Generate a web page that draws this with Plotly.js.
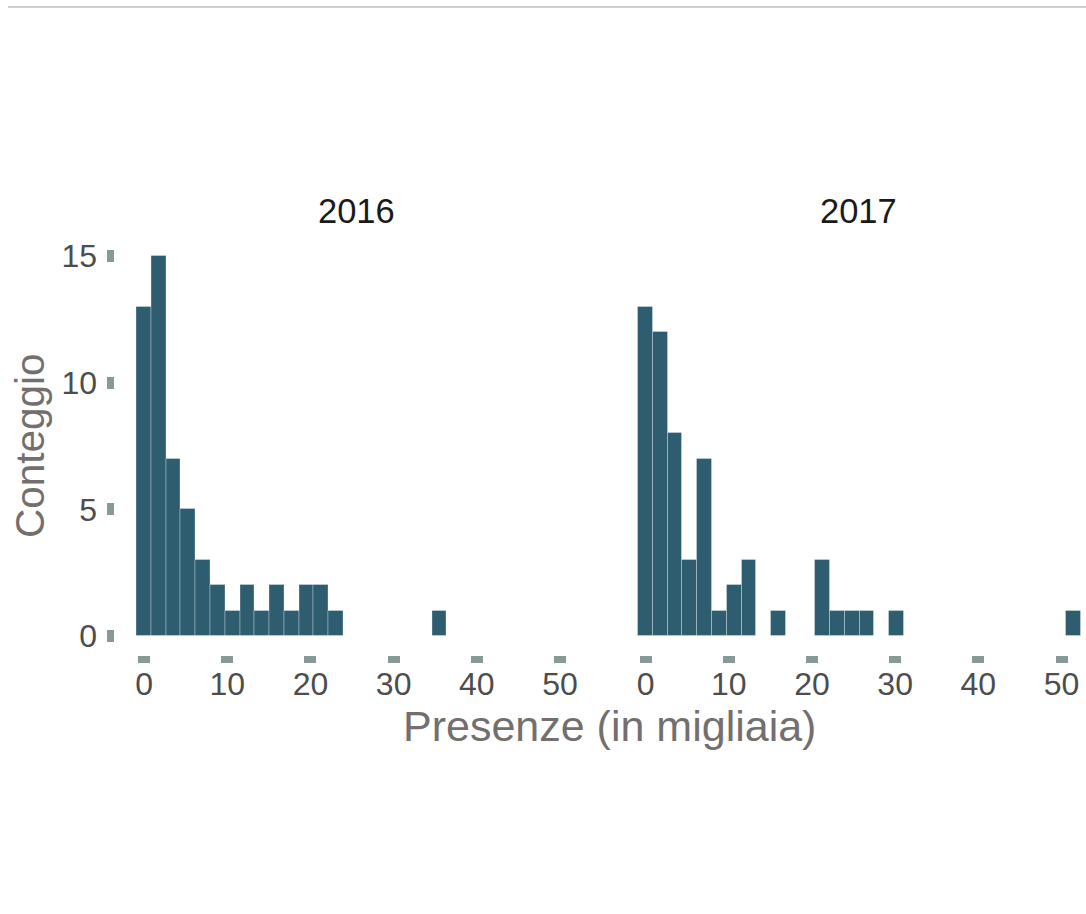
<!DOCTYPE html>
<html>
<head>
<meta charset="utf-8">
<script src="https://cdn.plot.ly/plotly-3.0.1.min.js"></script>
<style>
  html, body { margin: 0; padding: 0; background: #ffffff; }
  #chart { width: 1086px; height: 914px; }
</style>
</head>
<body>
<div id="chart"></div>
<script>
// ---- data ----
const binWidth = 1.775;            // histogram bin width (thousands)
const panelYears = ["2016", "2017"];
const counts2016 = [13, 15, 7, 5, 3, 2, 1, 2, 1, 2, 1, 2, 2, 1, 0, 0, 0, 0, 0, 0, 1];
const counts2017 = [13, 12, 8, 3, 7, 1, 2, 3, 0, 1, 0, 0, 3, 1, 1, 1, 0, 1, 0, 0, 0, 0, 0, 0, 0, 0, 0, 0, 0, 1];
const xTickVals = [0, 10, 20, 30, 40, 50];
const yTickVals = [0, 5, 10, 15];
const xTitle = "Presenze (in migliaia)";
const yTitle = "Conteggio";

// ---- styling ----
const W = 1086, H = 914;
const barColor = "#2f5d70";
const tickColor = "#889a98";
const FONT = "Liberation Sans, Arial, Helvetica, sans-serif";

function centers(counts) { return counts.map((_, i) => i * binWidth); }

const traces = [
  {
    type: "bar", x: centers(counts2016), y: counts2016, width: binWidth,
    xaxis: "x", yaxis: "y",
    marker: { color: barColor, line: { color: "rgba(255,255,255,0.3)", width: 1 } },
    hoverinfo: "x+y", showlegend: false
  },
  {
    type: "bar", x: centers(counts2017), y: counts2017, width: binWidth,
    xaxis: "x2", yaxis: "y2",
    marker: { color: barColor, line: { color: "rgba(255,255,255,0.3)", width: 1 } },
    hoverinfo: "x+y", showlegend: false
  }
];

// pixel geometry -> paper fractions
const px = v => v / W;
const py = v => 1 - v / H;
const pxPerUnit = 8.32;
const xMin = -3.55;
const p1 = [114.5, 602], p2 = [616, 1086];

const commonX = {
  showgrid: false, zeroline: false, showline: false,
  ticks: "outside", ticklen: 7, tickwidth: 12, tickcolor: tickColor,
  tickmode: "array", tickvals: xTickVals,
  ticklabelstandoff: -6,
  tickfont: { family: FONT, size: 32, color: "#4d4d4d" },
  fixedrange: true
};
const commonY = {
  showgrid: false, zeroline: false, showline: false,
  ticks: "outside", ticklen: 7, tickwidth: 12, tickcolor: tickColor,
  tickmode: "array", tickvals: yTickVals,
  ticklabelstandoff: 3,
  tickfont: { family: FONT, size: 32, color: "#4d4d4d" },
  range: [-0.75, 15.75], domain: [py(655), py(237)],
  fixedrange: true
};

const layout = {
  width: W, height: H,
  margin: { l: 0, r: 0, t: 0, b: 0 },
  paper_bgcolor: "#ffffff", plot_bgcolor: "#ffffff",
  bargap: 0,
  font: { family: FONT },
  xaxis: Object.assign({}, commonX, {
    domain: [px(p1[0]), px(p1[1])],
    range: [xMin, xMin + (p1[1] - p1[0]) / pxPerUnit], anchor: "y"
  }),
  xaxis2: Object.assign({}, commonX, {
    domain: [px(p2[0]), px(p2[1])],
    range: [xMin, xMin + (p2[1] - p2[0]) / pxPerUnit], anchor: "y2"
  }),
  yaxis: Object.assign({}, commonY, { anchor: "x" }),
  yaxis2: Object.assign({}, commonY, { anchor: "x2", showticklabels: false, ticks: "" }),
  annotations: [
    { text: panelYears[0], xref: "paper", yref: "paper", x: px(356), y: py(211),
      xanchor: "center", yanchor: "middle", showarrow: false,
      font: { family: FONT, size: 34.5, color: "#1a1a1a" } },
    { text: panelYears[1], xref: "paper", yref: "paper", x: px(858), y: py(211),
      xanchor: "center", yanchor: "middle", showarrow: false,
      font: { family: FONT, size: 34.5, color: "#1a1a1a" } },
    { text: xTitle, xref: "paper", yref: "paper", x: px(609.5), y: py(726),
      xanchor: "center", yanchor: "middle", showarrow: false,
      font: { family: FONT, size: 43, color: "#736f6f" } },
    { text: yTitle, xref: "paper", yref: "paper", x: px(30), y: py(446),
      xanchor: "center", yanchor: "middle", showarrow: false, textangle: -90,
      font: { family: FONT, size: 40.5, color: "#736f6f" } }
  ],
  shapes: [
    { type: "line", xref: "paper", yref: "paper", x0: px(8), x1: 1, y0: py(7), y1: py(7),
      line: { color: "#bdbdbd", width: 1.5 } }
  ]
};

Plotly.newPlot("chart", traces, layout, { displayModeBar: false, responsive: false });
</script>
</body>
</html>
